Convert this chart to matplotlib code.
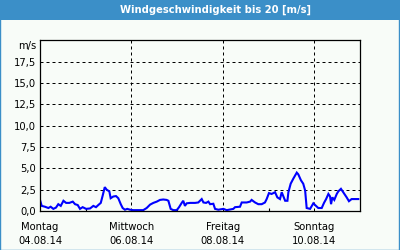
import matplotlib
matplotlib.use("Agg")
import matplotlib.pyplot as plt
from matplotlib.patches import Rectangle

title = "Windgeschwindigkeit bis 20 [m/s]"
unit = "m/s"
hours = [0, 0.9, 2.6, 4.4, 5.6, 7.0, 8.4, 9.6, 10.9, 12.3, 13.7, 15.4, 17.2, 18.4, 19.8,
         21.0, 22.4, 24.2, 26.3, 28.0, 29.4, 30.6, 31.9, 32.9, 34.0, 35.0, 36.4, 37.1,
         38.5, 39.9, 41.1, 42.4, 43.4, 44.6, 45.8, 47.3, 49.0, 54.2, 56.0, 57.8, 59.5,
         61.3, 63.0, 64.7, 66.5, 67.4, 68.6, 70.0, 71.8, 73.0, 74.4, 75.2, 76.1, 77.0,
         78.8, 81.4, 83.1, 84.9, 85.8, 87.2, 88.4, 89.3, 91.0, 91.9, 93.6, 96.3, 98.0,
         101.5, 102.4, 105.0, 105.9, 108.5, 110.3, 111.1, 112.9, 114.6, 116.4, 118.1,
         119.0, 120.2, 121.6, 123.4, 124.6, 126.0, 126.9, 127.8, 128.7, 129.9, 130.4,
         131.6, 133.0, 134.8, 135.6, 137.0, 138.2, 139.2, 140.0, 141.8, 143.5, 144.9,
         146.1, 147.9, 149.1, 150.2, 151.4, 152.3, 152.8, 153.5, 154.5, 155.8, 156.6,
         158.0, 159.2, 161.0, 162.2, 163.6, 167.1]
speed = [1.3, 0.6, 0.5, 0.35, 0.5, 0.25, 0.4, 0.8, 0.6, 1.2, 0.95, 0.95, 1.1, 0.8, 0.7,
         0.25, 0.45, 0.25, 0.3, 0.6, 0.45, 0.7, 0.95, 1.8, 2.8, 2.5, 2.3, 1.5,
         1.7, 1.75, 1.5, 0.8, 0.35, 0.15, 0.25, 0.15, 0.1, 0.1, 0.35, 0.75, 0.95,
         1.1, 1.3, 1.35, 1.3, 1.2, 0.25, 0.1, 0.1, 0.45, 0.95, 1.2, 0.6, 0.9,
         0.95, 0.95, 1.0, 1.4, 1.0, 0.95, 1.1, 0.8, 0.85, 0.25, 0.15, 0.25, 0.1,
         0.25, 0.45, 0.5, 1.0, 1.0, 1.1, 1.3, 1.0, 0.8, 0.8, 1.0,
         1.4, 2.1, 2.0, 2.2, 1.6, 1.4, 2.2, 1.7, 1.2, 1.2, 2.2,
         3.2, 3.8, 4.5, 4.3, 3.6, 3.2, 2.4, 0.35, 0.25, 0.9, 0.6,
         0.35, 0.35, 0.95, 1.4, 2.0, 1.7, 0.8, 1.6, 1.3, 2.0, 2.3,
         2.6, 2.2, 1.6, 1.15, 1.4, 1.4]
yticks = [0, 2.5, 5, 7.5, 10, 12.5, 15, 17.5]
ytick_labels = ["0,0", "2,5", "5,0", "7,5", "10,0", "12,5", "15,0", "17,5"]
xticks = [0, 48, 96, 144]
xtick_labels = ["Montag\n04.08.14", "Mittwoch\n06.08.14", "Freitag\n08.08.14", "Sonntag\n10.08.14"]
minor_xticks = [24, 72, 120]

bg = "#f8fcf8"
blue_bar = "#3b8fc8"
fs = 7.2

fig = plt.figure(figsize=(4, 2.5), dpi=100, facecolor=bg)
fig.patches.append(Rectangle((0, 0.92), 1, 0.08, transform=fig.transFigure,
                             facecolor=blue_bar, edgecolor="none", zorder=0))
fig.patches.append(Rectangle((0.0012, 0.002), 0.9963, 0.99, transform=fig.transFigure,
                             facecolor="none", edgecolor=blue_bar, lw=1.0, zorder=1))
fig.text(215 / 400, 1 - 10 / 250, title, color="white", fontsize=fs, fontweight="bold",
         ha="center", va="center")

ax = fig.add_axes([0.1, 39 / 250, 0.8, 170.5 / 250])
ax.set_facecolor(bg)
ax.plot(hours, speed, color="#0000ff", lw=1.5, solid_joinstyle="miter")
ax.set_xlim(0, 168)
ax.set_ylim(0, 20)
ax.set_yticks(yticks)
ax.set_yticklabels(ytick_labels)
ax.set_xticks(xticks)
ax.set_xticklabels(xtick_labels, linespacing=1.45)
ax.set_xticks(minor_xticks, minor=True)
ax.tick_params(axis="y", length=0, pad=3, labelsize=fs, colors="black")
ax.tick_params(axis="x", which="major", length=0, pad=8, labelsize=fs)
ax.tick_params(axis="x", which="minor", length=2.5, direction="in", width=0.8)
ax.grid(True, which="major", color="black", lw=0.72, linestyle=(0, (3, 3)))
for s in ax.spines.values():
    s.set_color("black")
    s.set_linewidth(0.9)
ax.text(-0.01, 19.4, unit, transform=ax.get_yaxis_transform(), ha="right", va="center",
        fontsize=fs)
fig.savefig("out.png", dpi=100, facecolor=bg)
